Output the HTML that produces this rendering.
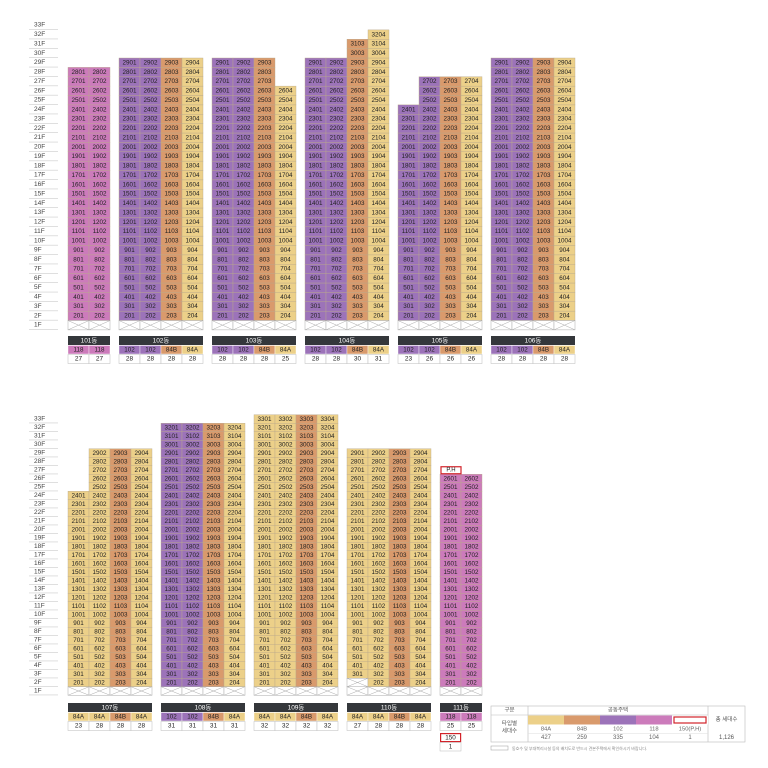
<!DOCTYPE html>
<html><head><meta charset="utf-8">
<style>
html,body{margin:0;padding:0;background:#fff;}
svg{display:block;font-family:"Liberation Sans","Noto Sans CJK KR",sans-serif;}
</style></head>
<body>
<svg id="chart" width="768" height="768" viewBox="0 0 768 768" xmlns="http://www.w3.org/2000/svg"></svg>
<script>
// ---- data ----
const buildingNames = ["101동","102동","103동","104동","105동","106동","107동","108동","109동","110동","111동"];
const buildingTypes = [
  ["118","118"],
  ["102","102","84B","84A"],
  ["102","102","84B","84A"],
  ["102","102","84B","84A"],
  ["102","102","84B","84A"],
  ["102","102","84B","84A"],
  ["84A","84A","84B","84A"],
  ["102","102","84B","84A"],
  ["84A","84A","84B","84A"],
  ["84A","84A","84B","84A"],
  ["118","118"]
];
const unitCounts = [
  [27,27],[28,28,28,28],[28,28,28,25],[28,28,30,31],[23,26,26,26],[28,28,28,28],
  [23,28,28,28],[31,31,31,31],[32,32,32,32],[27,28,28,28],[25,25]
];
const lowestFloors = [
  [2,2],[2,2,2,2],[2,2,2,2],[2,2,2,2],[2,2,2,2],[2,2,2,2],
  [2,2,2,2],[2,2,2,2],[2,2,2,2],[3,2,2,2],[2,2]
];
const legendTypes = ["84A","84B","102","118","150(P.H)"];
const legendCounts = ["427","259","335","104","1"];
const totalUnits = "1,126";

// ---- style ----
const typeColor = {"84A":"#ecd089","84B":"#d99a6c","102":"#9c73b9","118":"#cc7bbb","150":"#fff"};
const NS = "http://www.w3.org/2000/svg";
const svg = document.getElementById('chart');
function el(tag, attrs, parent){ const e=document.createElementNS(NS,tag); for(const k in attrs) e.setAttribute(k,attrs[k]); (parent||svg).appendChild(e); return e; }
function txt(x,y,s,size,fill,parent,anchor){ const t=el('text',{x:x,y:y,'font-size':size,fill:fill,'text-anchor':anchor||'middle','dominant-baseline':'central'},parent); t.textContent=s; return t; }

const sections = [
  {ids:[0,1,2,3,4,5], xs:[68,119,212,305,398,491], rowTop:20.5, rowH:9.375, hdr:336},
  {ids:[6,7,8,9,10], xs:[68,161,254,347,440], rowTop:414.75, rowH:8.5, hdr:703}
];
const colW = 21;

sections.forEach((sec,si)=>{
  const yOf = f => sec.rowTop + (33-f)*sec.rowH;
  // floor labels
  const fl = el('g',{},svg);
  
  
  for(let f=33; f>=1; f--){
    const y=yOf(f);
    txt(34,y+sec.rowH/2,f+"F",6.5,"#444",fl,'start');
    el('line',{x1:29,x2:58,y1:y+sec.rowH-0.3,y2:y+sec.rowH-0.3,stroke:'#ccc','stroke-width':0.6},fl);
  }
  sec.ids.forEach((b,bi)=>{
    const g = el('g',{},svg);
    
    
    const x0 = sec.xs[bi];
    const types = buildingTypes[b];
    types.forEach((t,c)=>{
      const x = x0 + c*colW;
      const lo = lowestFloors[b][c];
      const hi = lo + unitCounts[b][c] - 1;
      for(let f=lo; f<=hi; f++){
        const y=yOf(f);
        const r = el('rect',{x:x,y:y,width:colW,height:sec.rowH,fill:typeColor[t],stroke:'#b9a98a','stroke-width':0.4},g);
        
        
        txt(x+colW/2,y+sec.rowH/2+0.3,String(f*100+c+1),6.3,'#222',g);
      }
      // empty (X) cells from 1F up to lo-1
      for(let f=1; f<lo; f++){
        const y=yOf(f);
        el('rect',{x:x,y:y,width:colW,height:sec.rowH,fill:'#fff',stroke:'#aaa','stroke-width':0.5},g);
        el('path',{d:`M${x} ${y}L${x+colW} ${y+sec.rowH}M${x+colW} ${y}L${x} ${y+sec.rowH}`,stroke:'#aaa','stroke-width':0.5,fill:'none'},g);
      }
    });
    const W = types.length*colW;
    // header
    const hy = sec.hdr;
    const hd = el('rect',{x:x0,y:hy,width:W,height:9,fill:'#34373b'},g);
    
    
    txt(x0+W/2,hy+4.8,buildingNames[b],6.5,'#fff',g);
    types.forEach((t,c)=>{
      const x=x0+c*colW;
      el('rect',{x:x,y:hy+9.5,width:colW,height:8.5,fill:typeColor[t],stroke:'#fff','stroke-width':0.4},g);
      txt(x+colW/2,hy+13.9,t,6.3,'#222',g);
      el('rect',{x:x,y:hy+18.5,width:colW,height:9,fill:'#fff',stroke:'#bbb','stroke-width':0.5},g);
      txt(x+colW/2,hy+23.2,String(unitCounts[b][c]),6.5,'#222',g);
    });
    if(b===10){
      // penthouse
      const py = yOf(27);
      const ph = el('rect',{x:x0+1,y:py+1,width:colW-1,height:sec.rowH-1.5,fill:'#fff',stroke:'#d2232a','stroke-width':1.2},g);
      
      
      txt(x0+colW/2+0.5,py+sec.rowH/2+0.3,'P.H',6,'#222',g);
      el('rect',{x:x0+0.6,y:hy+30.6,width:colW-1,height:8,fill:'#fff',stroke:'#d2232a','stroke-width':1.2},g);
      txt(x0+colW/2,hy+34.8,'150',6.3,'#222',g);
      el('rect',{x:x0,y:hy+39.5,width:colW,height:8.5,fill:'#fff',stroke:'#bbb','stroke-width':0.5},g);
      txt(x0+colW/2,hy+43.8,'1',6.3,'#222',g);
    }
  });
});

// ---- legend table ----
const lg = el('g',{},svg);


const L=491, T=706;
const colX=[491,528,564,600,636,672,708,745];
const rowY=[706,715,725,733.5,742];
el('rect',{x:L,y:T,width:254,height:36,fill:'#fff',stroke:'#bbb','stroke-width':0.6},lg);
el('line',{x1:528,x2:528,y1:706,y2:742,stroke:'#bbb','stroke-width':0.6},lg);
el('line',{x1:708,x2:708,y1:706,y2:742,stroke:'#bbb','stroke-width':0.6},lg);
el('line',{x1:491,x2:528,y1:715,y2:715,stroke:'#bbb','stroke-width':0.6},lg);
el('line',{x1:528,x2:708,y1:715,y2:715,stroke:'#bbb','stroke-width':0.6},lg);
el('line',{x1:528,x2:708,y1:733.5,y2:733.5,stroke:'#ddd','stroke-width':0.5},lg);
txt(509.5,710.7,'구분',5.5,'#555',lg);
txt(618,710.7,'공동주택',5.5,'#555',lg);
txt(509.5,724,'타입별',5.5,'#555',lg);
txt(509.5,731.5,'세대수',5.5,'#555',lg);
txt(726.5,720,'총 세대수',5.5,'#555',lg);
txt(726.5,738,totalUnits,6,'#555',lg);
legendTypes.forEach((t,i)=>{
  const x=colX[i+1], w=colX[i+2]-x;
  const key = t.startsWith('150')?'150':t;
  const sw = el('rect',{x:x,y:715.5,width:w,height:9,fill:typeColor[key]},lg);
  
  
  if(key==='150') el('rect',{x:x+2,y:717,width:w-4,height:6,fill:'#fff',stroke:'#d2232a','stroke-width':1.2},lg);
  txt(x+w/2,729.5,t,5.8,'#666',lg);
  txt(x+w/2,738,legendCounts[i],6,'#666',lg);
});
// note
const nb = el('rect',{x:491,y:746,width:17,height:4,fill:'#fff',stroke:'#999','stroke-width':0.5},svg);


const note = txt(512,748.3,'동호수 및 부대복리시설 등의 배치도로 반드시 견본주택에서 확인하시기 바랍니다.',4,'#888',svg,'start');


</script>
</body></html>
